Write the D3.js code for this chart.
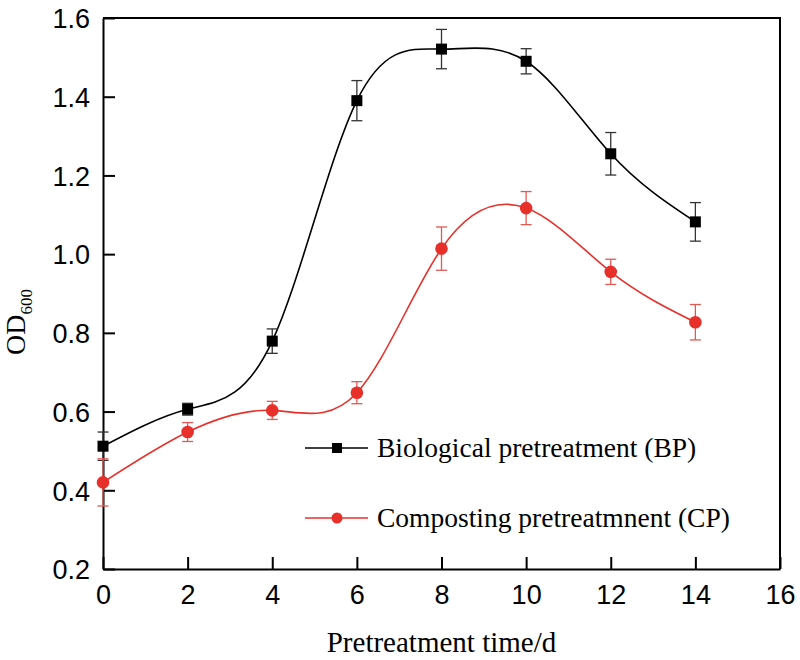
<!DOCTYPE html>
<html>
<head>
<meta charset="utf-8">
<script src="https://cdn.jsdelivr.net/npm/d3@7/dist/d3.min.js"></script>
<style>
  html, body { margin: 0; padding: 0; background: #fff; }
  svg { display: block; }
</style>
</head>
<body>
<svg id="chart" width="800" height="660"></svg>
<script>
// ---- data ----
const days = [0, 2, 4, 6, 8, 10, 12, 14];
const bpValues = [0.512, 0.606, 0.779, 1.390, 1.521, 1.490, 1.255, 1.082];
const bpErrors = [0.036, 0.015, 0.031, 0.051, 0.050, 0.032, 0.054, 0.049];
const cpValues = [0.420, 0.548, 0.603, 0.648, 1.014, 1.117, 0.955, 0.827];
const cpErrors = [0.060, 0.024, 0.023, 0.028, 0.055, 0.042, 0.032, 0.045];
const xTicks = [0, 2, 4, 6, 8, 10, 12, 14, 16];
const yTicks = [0.2, 0.4, 0.6, 0.8, 1.0, 1.2, 1.4, 1.6];
const seriesNames = ["Biological pretreatment (BP)", "Composting pretreatmnent (CP)"];
const xTitle = "Pretreatment time/d";

// ---- layout ----
const svg = d3.select("#chart");
const L = 103, R = 780, T = 18, B = 569;
const x = d3.scaleLinear().domain([0, 16]).range([L, R]);
const y = d3.scaleLinear().domain([0.2, 1.6]).range([B, T]);

const BLACK = "#000";
const RED = "#e8302b";

// frame (top & right)
svg.append("path")
  .attr("d", `M${L},${T}H${R}V${B}`)
  .attr("fill", "none").attr("stroke", "#000").attr("stroke-width", 2);

// x axis
const xAxis = svg.append("g").attr("transform", `translate(0,${B})`)
  .call(d3.axisBottom(x).tickValues(xTicks).tickFormat(d3.format("d")).tickSizeInner(-12).tickSizeOuter(0).tickPadding(16));
// y axis
const yAxis = svg.append("g").attr("transform", `translate(${L},0)`)
  .call(d3.axisLeft(y).tickValues(yTicks).tickFormat(d3.format(".1f")).tickSizeInner(-12).tickSizeOuter(0).tickPadding(13));

[xAxis, yAxis].forEach(g => {
  g.select(".domain").attr("stroke", "#000").attr("stroke-width", 2);
  g.selectAll(".tick line").attr("stroke", "#000").attr("stroke-width", 2);
  g.selectAll(".tick text").attr("fill", "#000")
    .style("font-family", "'Liberation Sans', Arial, sans-serif").style("font-size", "27px");
});
xAxis.selectAll(".tick text").attr("dy", "0.71em");
yAxis.selectAll(".tick text").attr("dy", "0.36em");

// axis titles
svg.append("text")
  .attr("x", (L + R) / 2).attr("y", 652)
  .attr("text-anchor", "middle")
  .style("font-family", "'Liberation Serif', 'Times New Roman', serif").style("font-size", "29px")
  .text(xTitle);

const yt = svg.append("text")
  .attr("transform", `translate(25,322) rotate(-90)`)
  .attr("text-anchor", "middle")
  .style("font-family", "'Liberation Serif', 'Times New Roman', serif").style("font-size", "28px");
yt.append("tspan").text("OD");
yt.append("tspan").attr("dy", 7).style("font-size", "17px").text("600");

// ---- series ----
const series = [
  { vals: bpValues, errs: bpErrors, color: BLACK, errColor: "#333", marker: "square" },
  { vals: cpValues, errs: cpErrors, color: RED, errColor: "#e05a55", marker: "circle" }
];

const line = d3.line().x(d => x(d[0])).y(d => y(d[1])).curve(d3.curveNatural);

series.forEach(s => {
  const pts = days.map((d, i) => [d, s.vals[i], s.errs[i]]);
  const g = svg.append("g");
  // curve
  g.append("path").attr("d", line(pts)).attr("fill", "none")
    .attr("stroke", s.color).attr("stroke-width", 1.6);
  // error bars
  const eb = g.selectAll(".eb").data(pts).enter().append("g");
  eb.append("line")
    .attr("x1", d => x(d[0])).attr("x2", d => x(d[0]))
    .attr("y1", d => y(d[1] - d[2])).attr("y2", d => y(d[1] + d[2]))
    .attr("stroke", s.errColor).attr("stroke-width", 1.3);
  [-1, 1].forEach(sg => {
    eb.append("line")
      .attr("x1", d => x(d[0]) - 5.5).attr("x2", d => x(d[0]) + 5.5)
      .attr("y1", d => y(d[1] + sg * d[2])).attr("y2", d => y(d[1] + sg * d[2]))
      .attr("stroke", s.errColor).attr("stroke-width", 1.3);
  });
  // markers
  if (s.marker === "square") {
    g.selectAll(".m").data(pts).enter().append("rect")
      .attr("x", d => x(d[0]) - 5.5).attr("y", d => y(d[1]) - 5.5)
      .attr("width", 11).attr("height", 11).attr("fill", s.color);
  } else {
    g.selectAll(".m").data(pts).enter().append("circle")
      .attr("cx", d => x(d[0])).attr("cy", d => y(d[1])).attr("r", 6.3)
      .attr("fill", s.color);
  }
});

// ---- legend ----
const legendY = [448, 518];
series.forEach((s, i) => {
  const g = svg.append("g");
  g.append("line").attr("x1", 305).attr("x2", 368).attr("y1", legendY[i]).attr("y2", legendY[i])
    .attr("stroke", s.color).attr("stroke-width", 1.6);
  if (s.marker === "square") {
    g.append("rect").attr("x", 337 - 5).attr("y", legendY[i] - 5).attr("width", 10).attr("height", 10).attr("fill", s.color);
  } else {
    g.append("circle").attr("cx", 337).attr("cy", legendY[i]).attr("r", 5.5).attr("fill", s.color);
  }
  g.append("text").attr("x", 377).attr("y", legendY[i] + 9)
    .style("font-family", "'Liberation Serif', 'Times New Roman', serif").style("font-size", "27.5px")
    .attr("fill", "#000")
    .text(seriesNames[i]);
});
</script>
</body>
</html>
